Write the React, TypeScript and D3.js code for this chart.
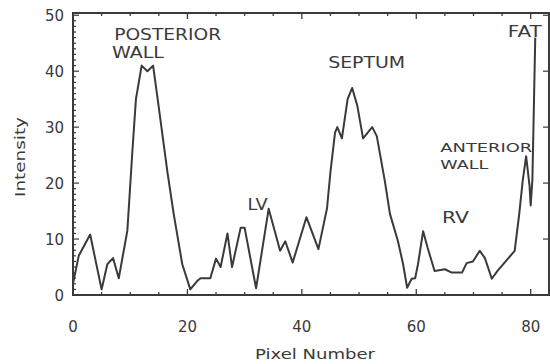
import * as d3 from "d3";

// pixel number along the scan line, and measured intensity
const pixelNumber = [
  0, 1, 3, 5, 6, 7, 8, 9.5, 10.4, 11, 12, 13, 14, 14.8, 16.5, 17.6, 19.1, 20.5,
  21.7, 22.3, 24, 25, 25.8, 27, 27.8, 29.3, 30, 32, 34.2, 36.2, 37.1, 38.4,
  40.8, 42.9, 44.4, 45, 45.8, 46.2, 47, 48, 48.8, 49.7, 50.7, 52.3, 53.1, 54.5,
  55.4, 56.8, 57.7, 58.4, 59.2, 59.8, 60.3, 61.2, 62, 63.2, 65, 66.2, 68, 68.8,
  69.9, 71.1, 72, 73.2, 74.2, 77.2, 78, 78.6, 79.2, 79.8, 80, 80.3, 80.7, 80.8,
];
const intensity = [
  2, 7, 10.8, 1, 5.5, 6.6, 3, 11.5, 26, 35, 41, 40, 41, 35, 22, 14.5, 5.5, 1,
  2.5, 3, 3, 6.5, 5, 11, 5, 12, 12, 1.2, 15.4, 7.9, 9.6, 5.8,
  13.9, 8.2, 15.5, 22, 29, 30, 28, 35, 37, 33.8, 28, 30, 28.4, 20.4,
  14.5, 9.6, 5.5, 1.3, 2.9, 3, 5.5, 11.4, 8.4, 4.3, 4.6, 4, 4, 5.7,
  6, 7.9, 6.6, 2.9, 4.3, 7.9, 14.5, 20.4, 24.8, 19.5, 16, 20.7, 41, 46,
];

const xTickValues = [0, 20, 40, 60, 80];
const yTickValues = [0, 10, 20, 30, 40, 50];

// annotation labels: [text, pixel number, intensity at baseline, width px, font px]
const labels: [string, number, number, number, number][] = [
  ["POSTERIOR", 7.2, 45.6, 107, 15],
  ["WALL", 6.8, 42.4, 52, 15],
  ["LV", 30.5, 15.2, 20, 15],
  ["SEPTUM", 44.6, 40.5, 77, 15],
  ["RV", 64.5, 12.9, 27, 15],
  ["ANTERIOR", 64.2, 25.5, 92, 13],
  ["WALL", 64.2, 22.6, 48, 13],
  ["FAT", 76, 46.2, 34, 15],
];

const W = 550;
const H = 364;
const left = 73;
const right = 549;
const top = 13;
const bottom = 295;
const ink = "#3a3a3a";
const font = "DejaVu Sans, sans-serif";

export default function App() {
  const x = d3.scaleLinear().domain([0, 83.2]).range([left, right]);
  const y = d3.scaleLinear().domain([0, 50.4]).range([bottom, top]);

  const pts = pixelNumber.map((p, i) => [p, intensity[i]] as [number, number]);
  const line = d3
    .line<[number, number]>()
    .x((d) => x(d[0]))
    .y((d) => y(d[1]));

  const xMinor = d3.range(0, 84, 5);
  const yMinor = d3.range(0, 51, 1);

  return (
    <svg
      width={W}
      height={H}
      style={{ position: "absolute", left: 0, top: 0, background: "#fff" }}
    >
      {/* frame */}
      <rect
        x={left}
        y={top}
        width={right - left}
        height={bottom - top}
        fill="none"
        stroke={ink}
        strokeWidth={2}
      />

      {/* x ticks bottom + top */}
      {xMinor.map((v) => {
        const len = v % 20 === 0 ? 6 : 3;
        return (
          <g key={"xt" + v} stroke={ink} strokeWidth={1.3}>
            <line x1={x(v)} x2={x(v)} y1={bottom} y2={bottom - len} />
            <line x1={x(v)} x2={x(v)} y1={top} y2={top + len} />
          </g>
        );
      })}

      {/* y ticks left + right */}
      {yMinor.map((v) => {
        const major = v % 10 === 0;
        const len = major ? 6 : 3;
        return (
          <g key={"yt" + v} stroke={ink} strokeWidth={1.2}>
            <line x1={left} x2={left + len} y1={y(v)} y2={y(v)} />
            {major && <line x1={right} x2={right - len} y1={y(v)} y2={y(v)} />}
          </g>
        );
      })}

      {/* tick labels */}
      {xTickValues.map((v) => (
        <text
          key={"xl" + v}
          x={x(v)}
          y={332}
          textAnchor="middle"
          fontFamily={font}
          fontSize={15}
          fill={ink}
        >
          {v}
        </text>
      ))}
      {yTickValues.map((v) => (
        <text
          key={"yl" + v}
          x={64}
          y={y(v) + 6}
          textAnchor="end"
          fontFamily={font}
          fontSize={15}
          fill={ink}
        >
          {v}
        </text>
      ))}

      {/* axis titles */}
      <text
        x={315}
        y={359}
        textAnchor="middle"
        fontFamily={font}
        fontSize={14}
        fill={ink}
        textLength={120}
        lengthAdjust="spacingAndGlyphs"
      >
        Pixel Number
      </text>
      <text
        transform="translate(25,157) rotate(-90)"
        textAnchor="middle"
        fontFamily={font}
        fontSize={14}
        fill={ink}
        textLength={80}
        lengthAdjust="spacingAndGlyphs"
      >
        Intensity
      </text>

      {/* profile */}
      <path
        d={line(pts) ?? ""}
        fill="none"
        stroke={ink}
        strokeWidth={2}
        strokeLinejoin="round"
      />

      {/* annotations */}
      {labels.map(([t, px, v, w, fs], i) => (
        <text
          key={"lab" + i}
          x={x(px)}
          y={y(v)}
          fontFamily={font}
          fontSize={fs}
          fill={ink}
          textLength={w}
          lengthAdjust="spacingAndGlyphs"
        >
          {t}
        </text>
      ))}
    </svg>
  );
}
